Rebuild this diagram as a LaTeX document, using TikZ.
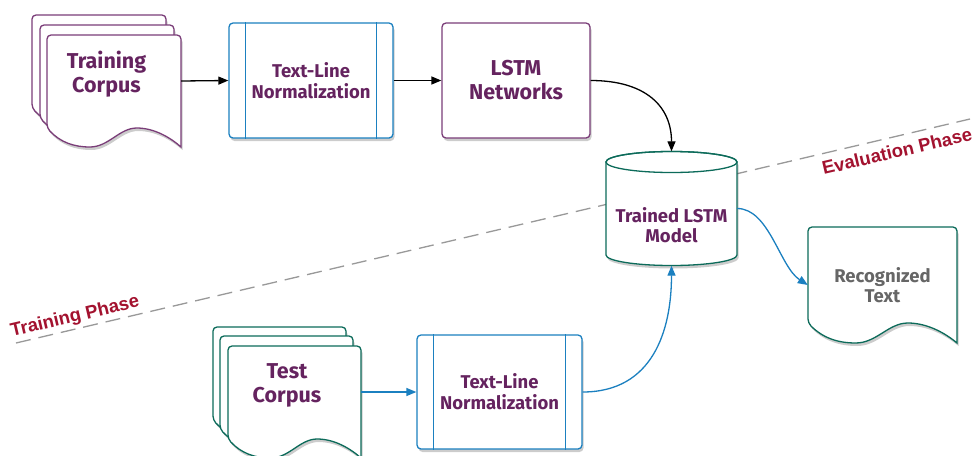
\documentclass[tikz,border=0pt]{standalone}
\usepackage{fontspec}
\setmainfont{Fira Sans}
\newfontfamily\phasefont{Liberation Sans}
\usetikzlibrary{arrows.meta,shadows}
\definecolor{purp}{HTML}{65235F}
\definecolor{purpline}{HTML}{7A3D78}
\definecolor{tealc}{HTML}{0C6B5A}
\definecolor{bluec}{HTML}{1B80C0}
\definecolor{phasered}{HTML}{A3122F}
\definecolor{grayt}{HTML}{666666}
\definecolor{dashgray}{HTML}{999999}
\tikzset{
  shd/.style={drop shadow={shadow xshift=1.5pt, shadow yshift=-3pt, opacity=0.2, fill=black}},
  sheetline/.style={line width=1.3pt, fill=white, shd},
  procbox/.style={draw=bluec, line width=1.3pt, fill=white, rounded corners=4pt,
    minimum width=164pt, minimum height=115pt, inner sep=0pt, shd, align=center,
    text=purp, font=\bfseries\fontsize{18.5}{21}\selectfont},
  lstmbox/.style={draw=purpline, line width=1.3pt, fill=white, rounded corners=4pt,
    minimum width=148pt, minimum height=115pt, inner sep=0pt, shd, align=center,
    text=purp, font=\bfseries\fontsize{21.5}{24}\selectfont},
  biglbl/.style={font=\bfseries\fontsize{21.5}{24}\selectfont, text=purp, align=center, inner sep=0pt},
  smalllbl/.style={font=\bfseries\fontsize{18.5}{20}\selectfont, text=purp, align=center, inner sep=0pt},
  ghost/.style={inner sep=0pt, draw=none},
  blk/.style={line width=1.3pt, -{Triangle[length=10pt,width=8pt]}},
  blu/.style={line width=1.3pt, draw=bluec, -{Triangle[length=10pt,width=8pt]}},
  phase/.style={font=\phasefont\bfseries\fontsize{18.5}{20}\selectfont, text=phasered, rotate=13.2, inner sep=0pt},
}
% #1 x, #2 y, #3 width, #4 left height, #5 right height, #6 colour
\newcommand\docsheet[6]{%
  \draw[sheetline, draw=#6]
    (#1+#3,#2+#5) [rounded corners=4pt] -- (#1+#3,#2) -- (#1,#2) -- (#1,#2+#4) [sharp corners]
    .. controls (#1+0.1*#3,#2+#4+0.75*#5-0.75*#4) and (#1+0.2*#3,#2+#5) .. (#1+0.32*#3,#2+#5)
    .. controls (#1+0.46*#3,#2+#5) and (#1+0.54*#3,#2+#4) .. (#1+0.67*#3,#2+#4)
    .. controls (#1+0.8*#3,#2+#4) and (#1+0.92*#3,#2+0.5*#4+0.5*#5) .. (#1+#3,#2+#5) -- cycle;
}
\begin{document}
\begin{tikzpicture}[x=1pt,y=-1pt]
\useasboundingbox (0,0) rectangle (974,455);
\fill[white] (0,0) rectangle (974,455);

% phase divider
\draw[dashgray, line width=1.3pt, dash pattern=on 15pt off 8pt] (16,343) -- (970,119);
\node[phase] (trainphase) at (75,317) {Training Phase};
\node[phase] (evalphase) at (897,151) {Evaluation Phase};

% training corpus stack
\docsheet{32}{15}{134}{93}{112}{purpline}
\docsheet{40}{25}{134}{93}{112}{purpline}
\docsheet{47}{35}{134}{93}{112}{purpline}
\node[ghost, minimum width=149pt, minimum height=132pt] (trainc) at (106.5,81) {};
\node[biglbl] (traincl) at (106.5,74) {Training\\Corpus};

% top row
\node[procbox] (tln1) at (311,80.5) {Text-Line\\Normalization};
\draw[bluec, line width=1.3pt] ([xshift=17pt]tln1.north west) -- ([xshift=17pt]tln1.south west);
\draw[bluec, line width=1.3pt] ([xshift=-17pt]tln1.north east) -- ([xshift=-17pt]tln1.south east);
\node[lstmbox] (lstm) at (516,80.5) {LSTM\\Networks};

% cylinder
\draw[tealc, line width=1.3pt, fill=white, shd]
  (737,162) -- (737,255) .. controls (737,260.8) and (707.7,265.5) .. (671.5,265.5)
  .. controls (635.3,265.5) and (606,260.8) .. (606,255) -- (606,162)
  .. controls (606,156.2) and (635.3,151.5) .. (671.5,151.5)
  .. controls (707.7,151.5) and (737,156.2) .. (737,162) -- cycle;
\draw[tealc, line width=1.3pt] (671.5,162) ellipse [x radius=65.5, y radius=10.5];
\node[ghost, minimum width=131pt, minimum height=114pt] (cyl) at (671.5,208.5) {};
\node[smalllbl] (cyll) at (671.5,225) {Trained LSTM\\Model};

% recognized text
\docsheet{808}{227}{149}{96}{116}{tealc}
\node[ghost, minimum width=149pt, minimum height=20pt] (rec) at (882.5,285) {};
\node[smalllbl, text=grayt] (recl) at (882.5,285) {Recognized\\Text};

% test corpus stack
\docsheet{213}{327}{133}{93}{112}{tealc}
\docsheet{220}{336}{133}{93}{112}{tealc}
\docsheet{228}{346}{133}{93}{112}{tealc}
\node[ghost, minimum width=148pt, minimum height=40pt] (testc) at (287,392) {};
\node[biglbl] (testcl) at (287,385) {Test\\Corpus};

\node[procbox, minimum width=165pt, minimum height=114pt] (tln2) at (499.5,392) {Text-Line\\Normalization};
\draw[bluec, line width=1.3pt] ([xshift=17pt]tln2.north west) -- ([xshift=17pt]tln2.south west);
\draw[bluec, line width=1.3pt] ([xshift=-17pt]tln2.north east) -- ([xshift=-17pt]tln2.south east);

% connectors
\draw[blk] (trainc.east) -- (tln1.west);
\draw[blk] (tln1.east) -- (lstm.west);
\draw[blk] (lstm.east) .. controls +(55,0) and +(0,-45) .. (cyl.north);
\draw[blu] (testc.east) -- (tln2.west);
\draw[blu] (tln2.east) .. controls +(70,0) and +(0,65) .. (cyl.south);
\draw[blu] (cyl.east) .. controls +(32,0) and +(-28,-18) .. (rec.west);
\end{tikzpicture}
\end{document}
